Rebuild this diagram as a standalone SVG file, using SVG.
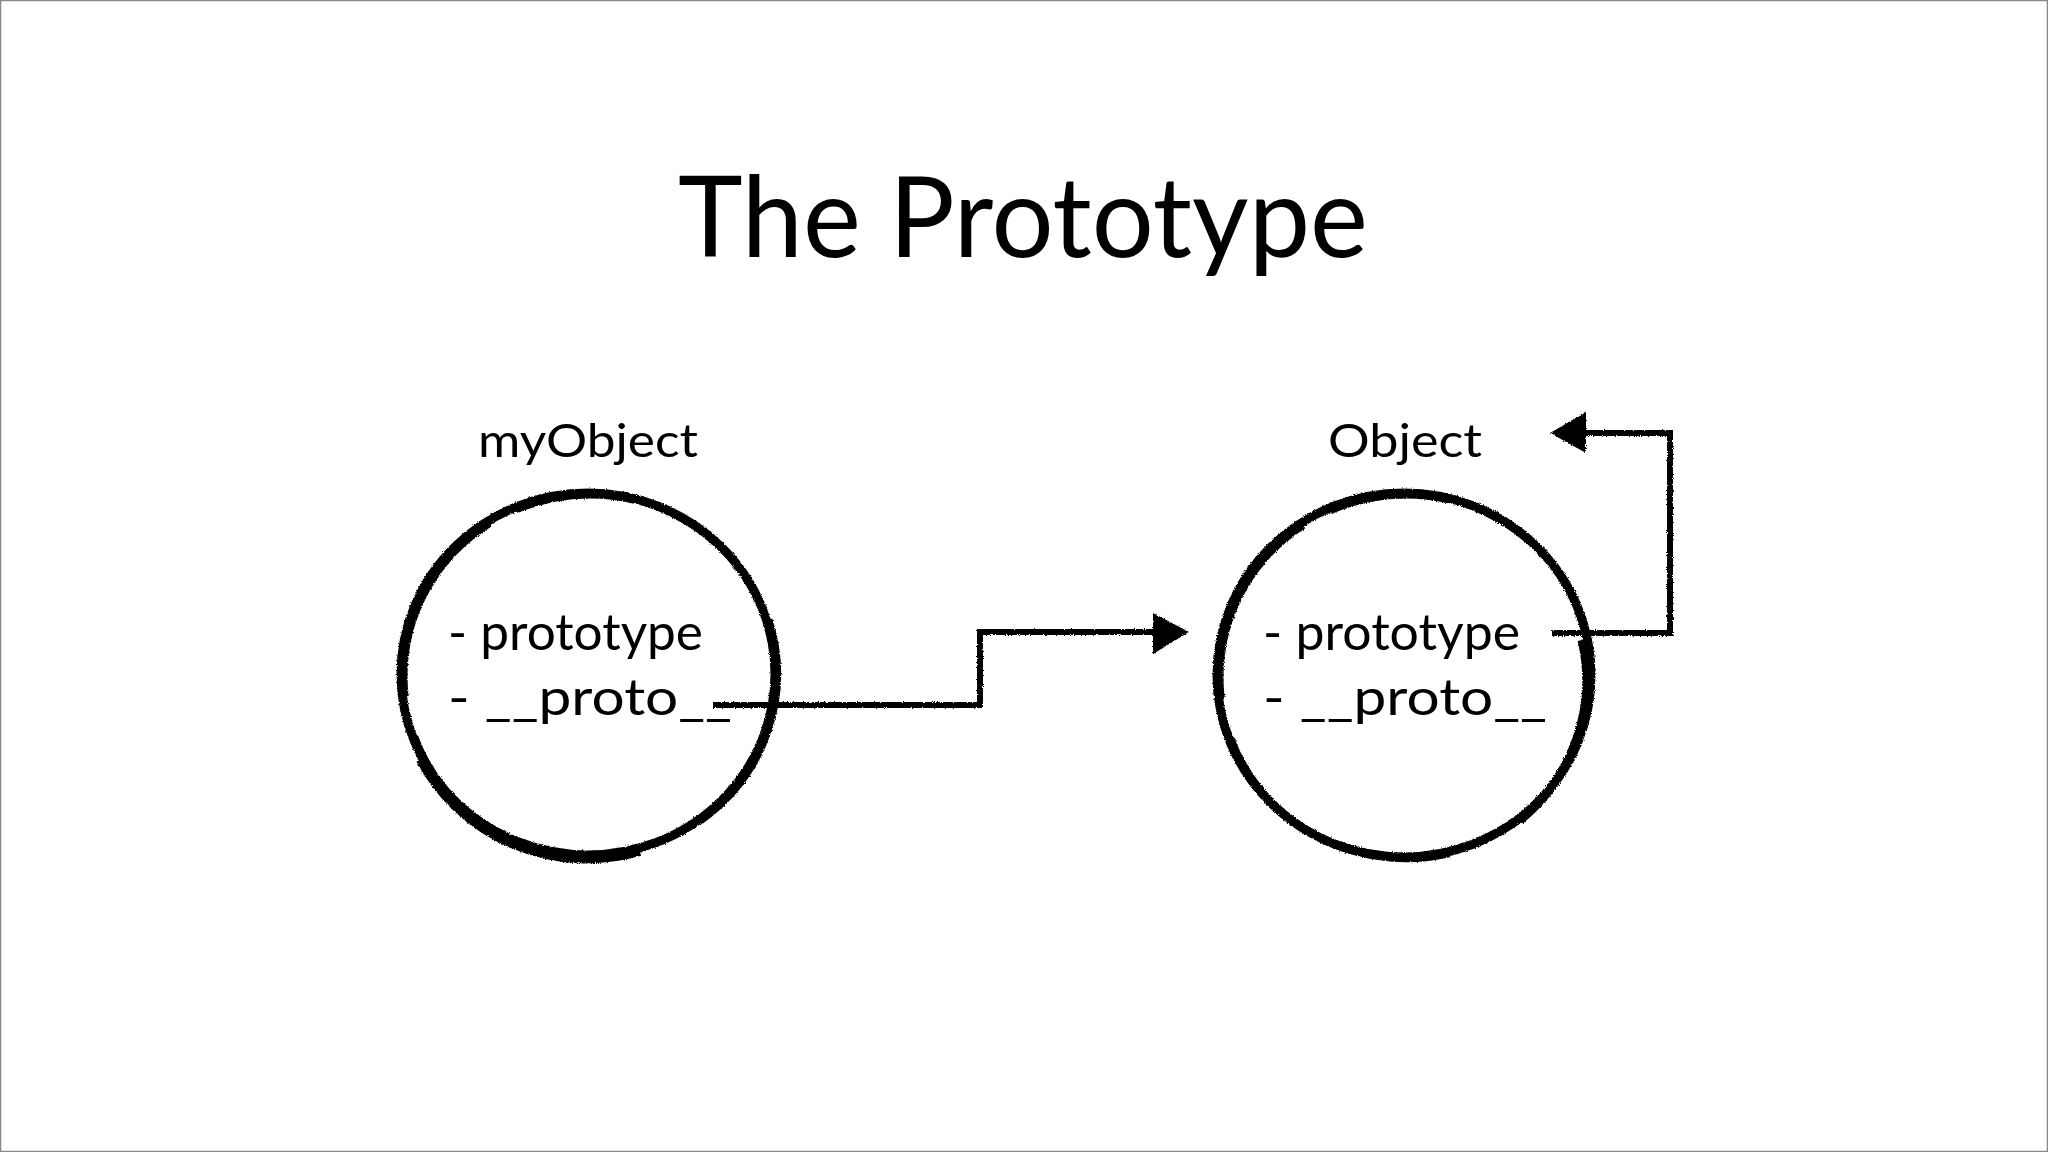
<svg xmlns="http://www.w3.org/2000/svg" width="2048" height="1152" viewBox="0 0 2048 1152">
<defs>
<style>
.t{font-family:Lato,"Open Sans","Liberation Sans",sans-serif;fill:#000}
.title{font-size:112px}
.lbl{font-size:46px}
.fld{font-size:51px}
.ring{fill:none;stroke:#000}
.wire{fill:none;stroke:#000;stroke-width:6;stroke-linejoin:miter}
.head{fill:#000}
</style>
<filter id="rough" x="-10%" y="-10%" width="120%" height="120%">
<feTurbulence type="fractalNoise" baseFrequency="0.9" numOctaves="2" seed="3" result="n"/>
<feDisplacementMap in="SourceGraphic" in2="n" scale="3" xChannelSelector="R" yChannelSelector="G"/>
</filter>
</defs>
<rect x="0.5" y="0.5" width="2047" height="1151" fill="#fff" stroke="#888" stroke-width="1.5"/>
<text class="t title" x="678" y="257" textLength="690" lengthAdjust="spacingAndGlyphs">The Prototype</text>

<g id="myObject">
<text class="t lbl" x="478" y="457" textLength="220" lengthAdjust="spacingAndGlyphs">myObject</text>
<g filter="url(#rough)">
<ellipse class="ring" cx="588" cy="674" rx="187" ry="181" stroke-width="9"/>
<ellipse class="ring" cx="590" cy="676" rx="184" ry="179" stroke-width="3" stroke-dasharray="120 40 200 30"/>
<path class="ring" d="M 768 620 A 187 181 0 0 1 700 820" stroke-width="9"/>
<path class="ring" d="M 420 760 A 187 181 0 0 0 640 852" stroke-width="8"/>
<path class="ring" d="M 404 700 A 187 181 0 0 1 470 534" stroke-width="6"/>
</g>
<text class="t fld" x="448" y="650" textLength="255" lengthAdjust="spacingAndGlyphs">- prototype</text>
<text class="t fld" x="448" y="715" textLength="284" lengthAdjust="spacingAndGlyphs">- __proto__</text>
</g>

<g id="Object">
<text class="t lbl" x="1328" y="457" textLength="154" lengthAdjust="spacingAndGlyphs">Object</text>
<g filter="url(#rough)">
<ellipse class="ring" cx="1404" cy="675" rx="187" ry="182" stroke-width="9"/>
<ellipse class="ring" cx="1406" cy="677" rx="184" ry="180" stroke-width="3" stroke-dasharray="120 40 200 30"/>
<path class="ring" d="M 1582 640 A 187 182 0 0 1 1520 820" stroke-width="9"/>
<path class="ring" d="M 1240 760 A 187 182 0 0 0 1450 853" stroke-width="8"/>
<path class="ring" d="M 1220 700 A 187 182 0 0 1 1286 534" stroke-width="6"/>
</g>
<text class="t fld" x="1263" y="650" textLength="257" lengthAdjust="spacingAndGlyphs">- prototype</text>
<text class="t fld" x="1263" y="715" textLength="284" lengthAdjust="spacingAndGlyphs">- __proto__</text>
</g>

<g id="connectors" filter="url(#rough)">
<path class="wire" d="M 713 705 L 980 705 L 980 632 L 1155 632"/>
<polygon class="head" points="1153,613 1189,632 1153,654"/>
<path class="wire" d="M 1552 633 L 1670 633 L 1670 433 L 1583 433"/>
<polygon class="head" points="1586,412 1550,433 1586,453"/>
</g>
</svg>
